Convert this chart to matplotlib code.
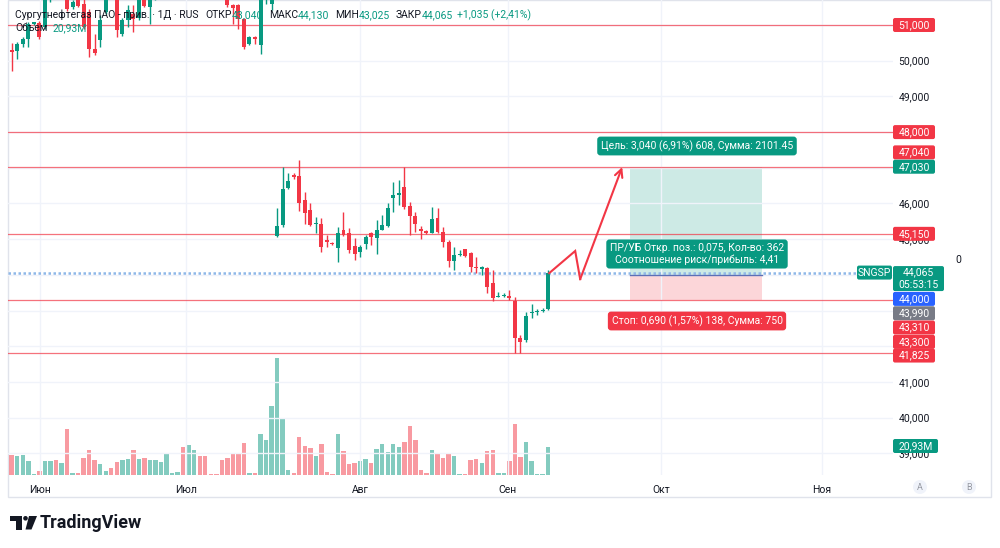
import matplotlib
matplotlib.use("Agg")
import matplotlib.pyplot as plt
import matplotlib.patches as patches
from matplotlib.transforms import Affine2D

plt.rcParams['font.family'] = ['Roboto', 'DejaVu Sans']

# ---- data (daily candles) ----
opens = [50.30, 50.28, 50.47, 50.62, 51.04, 51.05, 50.95, 51.90, 52.40, 52.00,
         52.30, 51.49, 51.75, 51.60, 51.37, 50.34, 50.58, 51.36, 51.90, 51.80,
         50.76, 51.14, 51.32, 51.20, 51.90, 51.51, 51.80, 52.10, 52.40, 52.80,
         52.85, 52.90, 52.50, 52.90, 53.10, 52.80, 52.60, 52.55, 52.50, 52.20,
         51.56, 51.56, 51.18, 50.48, 50.65, 50.44, 51.80, 51.60, 45.09, 45.40,
         46.44, 46.79, 46.77, 46.10, 45.82, 45.43, 45.43, 44.98, 44.90, 44.74,
         45.26, 45.17, 44.82, 44.65, 44.87, 45.17, 45.03, 45.26, 45.37, 46.15,
         46.24, 46.47, 45.93, 45.65, 45.28, 45.24, 45.18, 45.59, 45.21, 44.92,
         44.39, 44.56, 44.72, 44.61, 44.23, 44.17, 44.19, 43.76, 43.39, 43.40,
         43.41, 43.28, 42.22, 42.18, 42.92, 42.95, 42.99, 43.04]
highs = [50.50, 50.53, 50.65, 51.09, 51.08, 51.10, 52.00, 52.40, 52.60, 52.50,
         52.40, 51.70, 51.80, 51.75, 51.45, 50.76, 51.28, 51.90, 52.00, 51.90,
         51.20, 51.56, 51.56, 51.90, 52.00, 51.90, 52.20, 52.50, 52.90, 52.90,
         52.95, 53.00, 53.00, 53.20, 53.20, 52.90, 52.65, 52.60, 52.60, 52.30,
         51.60, 51.60, 51.20, 50.70, 50.70, 51.90, 52.20, 52.10, 45.86, 47.03,
         46.85, 46.86, 47.22, 46.33, 46.00, 45.63, 45.59, 45.12, 44.93, 45.35,
         45.77, 45.30, 45.02, 44.84, 45.12, 45.21, 45.54, 45.68, 46.00, 46.61,
         46.66, 47.03, 46.05, 45.77, 45.37, 45.26, 45.89, 45.87, 45.33, 44.98,
         44.79, 44.70, 44.72, 44.64, 44.49, 44.26, 44.23, 44.14, 43.53, 43.50,
         43.58, 43.39, 42.32, 42.97, 43.19, 43.04, 43.06, 44.13]
lows = [49.71, 50.06, 50.39, 50.39, 51.00, 50.60, 50.90, 51.65, 51.80, 51.90,
        51.40, 51.45, 51.50, 50.90, 50.09, 50.16, 50.39, 51.30, 51.75, 50.65,
        50.70, 50.95, 50.79, 51.15, 51.50, 51.04, 51.70, 52.00, 52.30, 52.75,
        52.80, 52.40, 52.40, 52.80, 52.70, 52.50, 52.50, 52.45, 52.10, 51.50,
        51.04, 50.90, 50.32, 50.45, 50.48, 50.20, 51.60, 51.42, 45.05, 45.33,
        46.40, 46.68, 45.79, 45.43, 45.38, 45.17, 44.65, 44.79, 44.84, 44.37,
        45.09, 44.60, 44.42, 44.51, 44.72, 44.84, 44.59, 45.26, 45.33, 45.77,
        45.96, 45.85, 45.12, 45.21, 45.00, 45.14, 45.17, 45.18, 44.77, 44.23,
        44.14, 44.53, 44.49, 44.09, 44.05, 43.99, 43.48, 43.28, 43.37, 43.37,
        43.30, 41.80, 41.80, 42.13, 42.78, 42.88, 42.96, 43.025]
closes = [50.25, 50.47, 50.62, 51.04, 51.05, 50.67, 51.90, 52.20, 52.00, 52.30,
          51.44, 51.65, 51.53, 50.95, 50.34, 50.22, 51.14, 51.75, 51.80, 50.86,
          51.14, 51.42, 51.18, 51.80, 51.53, 51.80, 52.10, 52.40, 52.80, 52.85,
          52.90, 52.50, 52.90, 53.10, 52.80, 52.60, 52.55, 52.50, 52.20, 51.56,
          51.47, 51.18, 50.39, 50.67, 50.60, 51.80, 52.00, 51.95, 45.37, 46.40,
          46.64, 46.73, 46.00, 45.74, 45.40, 45.46, 44.79, 44.93, 44.86, 45.18,
          45.12, 44.70, 44.59, 44.77, 45.05, 45.05, 45.26, 45.40, 45.87, 46.24,
          46.30, 45.89, 45.65, 45.43, 45.23, 45.17, 45.56, 45.21, 44.92, 44.39,
          44.55, 44.59, 44.53, 44.23, 44.18, 44.21, 43.67, 43.34, 43.42, 43.42,
          43.34, 42.22, 42.13, 42.85, 42.97, 42.99, 43.03, 44.065]
volumes = [15.2, 14.2, 15.2, 10.2, 1.0, 2.7, 10.2, 10.7, 11.5, 9.2,
           34.4, 1.7, 1.7, 13.0, 18.9, 11.2, 8.2, 3.2, 5.5, 10.0,
           11.2, 12.2, 18.4, 12.0, 13.0, 11.0, 11.0, 10.0, 15.7, 1.5,
           2.5, 20.9, 22.4, 18.4, 14.4, 13.9, 1.0, 1.0, 11.5, 13.0,
           15.4, 15.4, 23.7, 1.5, 1.5, 30.6, 26.1, 51.5, 87.7, 41.6,
           3.5, 1.7, 28.4, 21.4, 20.4, 14.4, 23.4, 2.2, 1.0, 30.4,
           17.9, 8.2, 9.2, 10.2, 12.2, 8.7, 19.2, 23.4, 16.9, 23.4,
           20.9, 24.9, 36.4, 25.9, 3.7, 1.7, 18.4, 16.2, 12.7, 16.2,
           14.2, 0.5, 0.5, 11.2, 12.2, 8.7, 17.9, 18.9, 1.2, 1.2,
           10.2, 37.9, 13.2, 24.4, 10.5, 0.7, 0.7, 20.93]

month_pos = [5.1, 31.5, 63.0, 89.7, 117.4, 146.5]
month_labels = ["Июн", "Июл", "Авг", "Сен", "Окт", "Ноя"]
price_ticks = [39, 40, 41, 42, 43, 44, 45, 46, 47, 48, 49, 50, 51]
# these tick labels sit fully under the coloured price labels
hidden_ticks = [42, 43, 44, 47, 48, 51]
level_lines = [51.0, 48.0, 47.03, 45.15, 43.31, 41.825]
last_price = 44.065

# position tool
pos_left, pos_right = 111.8, 135.7
entry, target, stop = 44.0, 47.03, 43.31
path_x = [97.2, 101.9, 102.8, 110.4]
path_y = [44.05, 44.67, 43.88, 47.02]

UP, DOWN = '#089981', '#F23645'
TXT = '#131722'
W, H = 1000, 548

fig = plt.figure(figsize=(W / 100, H / 100), dpi=100)
pix = Affine2D().scale(1 / W, -1 / H).translate(0, 1) + fig.transFigure

ax = fig.add_axes([8 / W, 1 - 475 / H, 885 / W, 475 / H])
ax2 = ax.twinx()
ax.set_zorder(2)
ax2.set_zorder(1)
ax.patch.set_visible(False)

ax.set_xlim(-0.67, 159.37)
ax.set_ylim(38.395, 51.70)
ax2.set_ylim(0, 355)

idx = list(range(len(opens)))
up = [c >= o for o, c in zip(opens, closes)]

# volume
vcol = [(0.031, 0.6, 0.506, 0.5) if u else (0.949, 0.212, 0.271, 0.5) for u in up]
ax2.bar(idx, volumes, width=0.8, color=vcol, linewidth=0)
ax2.set_yticks([])
for s in ax2.spines.values():
    s.set_visible(False)

# candles
ccol = [UP if u else DOWN for u in up]
ax.vlines(idx, lows, highs, colors=ccol, lw=1, zorder=3)
bottoms = [min(o, c) for o, c in zip(opens, closes)]
heights = [max(abs(c - o), 0.03) for o, c in zip(opens, closes)]
ax.bar(idx, heights, bottom=bottoms, width=0.72, color=ccol, linewidth=0, zorder=4)

# grid & axes
ax.set_yticks(price_ticks)
ax.set_yticklabels(["" if v in hidden_ticks else f"{v:.3f}".replace('.', ',') for v in price_ticks])
ax.yaxis.tick_right()
ax.set_xticks(month_pos)
ax.set_xticklabels(month_labels)
ax.tick_params(length=0, labelsize=7.5, labelcolor=TXT)
ax.tick_params(axis='y', pad=4)
ax.tick_params(axis='x', pad=7)
ax.grid(True, color='#f0f3fa', lw=1, zorder=0)
for s in ax.spines.values():
    s.set_visible(False)

for lv in level_lines:
    ax.axhline(lv, color=DOWN, lw=0.9, alpha=0.7, zorder=2)
ax.axhline(last_price, color='#8fb8e8', lw=1.8, ls=(0, (1, 1)), zorder=2)

# position tool
ax.add_patch(patches.Rectangle((pos_left, entry), pos_right - pos_left, target - entry,
                               fc=UP, alpha=0.2, lw=0, zorder=1))
ax.add_patch(patches.Rectangle((pos_left, stop), pos_right - pos_left, entry - stop,
                               fc=DOWN, alpha=0.2, lw=0, zorder=1))
ax.plot([pos_left, pos_right], [entry, entry], color='#5d6fb5', lw=1, zorder=2)

ax.plot(path_x[:-1], path_y[:-1], color=DOWN, lw=1.5, zorder=5, solid_joinstyle='miter')
ax.annotate('', xy=(path_x[-1], path_y[-1]), xytext=(path_x[-2], path_y[-2]),
            arrowprops=dict(arrowstyle='->', color=DOWN, lw=1.5, mutation_scale=14,
                            shrinkA=0, shrinkB=0), zorder=5)


def tool_label(x, y, text, color):
    fig.text(x, y, text, transform=pix, ha='center', va='center', fontsize=7.5,
             color='white', zorder=8, linespacing=1.15,
             bbox=dict(boxstyle='round,pad=0.35,rounding_size=0.3', fc=color, ec='none'))


tool_label(697, 146, "Цель: 3,040 (6,91%) 608, Сумма: 2101.45", UP)
tool_label(697, 254, "ПР/УБ Откр. поз.: 0,075, Кол-во: 362\nСоотношение риск/прибыль: 4,41", UP)
tool_label(697, 321, "Стоп: 0,690 (1,57%) 138, Сумма: 750", DOWN)


def py(p):
    return H - ax.transData.transform((0, p))[1]


def axis_label(text, y, color, x0=893, w=42, h=14):
    box = patches.FancyBboxPatch((x0, y - h / 2), w, h, boxstyle='round,pad=0,rounding_size=2',
                                 fc=color, ec='none', transform=pix, zorder=6)
    fig.add_artist(box)
    fig.text(x0 + w / 2, y, text, transform=pix, ha='center', va='center', color='white',
             fontsize=7.5, zorder=7, linespacing=1.3)


axis_label("51,000", py(51.0), DOWN)
axis_label("48,000", py(48.0), DOWN)
axis_label("47,040", py(47.04) - 14, DOWN)
axis_label("47,030", py(47.03), UP)
axis_label("45,150", py(45.15), DOWN)
axis_label("44,065\n05:53:15", py(last_price) + 6, UP, w=51, h=25)
axis_label("SNGSP", py(last_price), UP, x0=857, w=35, h=14)
axis_label("44,000", py(44.0) + 24, '#2962FF')
axis_label("43,990", py(43.99) + 38, '#787b86')
axis_label("43,310", py(43.31) + 28, DOWN)
axis_label("43,300", py(43.30) + 42, DOWN)
axis_label("41,825", py(41.825) + 3, DOWN)
axis_label("20,93M", 446, UP, w=45, h=14)

fig.text(958, 260, "0", transform=pix, ha='center', va='center', fontsize=7.5, color=TXT)

# header
first = fig.text(15, 15, "Сургутнефтегаз ПАО - прив. · 1Д · RUS", transform=pix,
                 ha='left', va='center', fontsize=7.5, color=TXT, zorder=10)
prev = first
for txt, col, gap in [("ОТКР", TXT, 5), ("43,040", UP, 0), ("МАКС", TXT, 4), ("44,130", UP, 0),
                      ("МИН", TXT, 4), ("43,025", UP, 0), ("ЗАКР", TXT, 4), ("44,065", UP, 0),
                      ("+1,035 (+2,41%)", UP, 3)]:
    prev = ax.annotate(txt, xy=(1, 0.5), xycoords=prev, xytext=(gap, 0), textcoords='offset points',
                       ha='left', va='center', fontsize=7.5, color=col, zorder=10,
                       annotation_clip=False)
vol_lbl = fig.text(15, 28, "Объем", transform=pix, ha='left', va='center', fontsize=7.5,
                   color=TXT, zorder=10)
ax.annotate("20,93M", xy=(1, 0.5), xycoords=vol_lbl, xytext=(4, 0), textcoords='offset points',
            ha='left', va='center', fontsize=7.5, color=UP, zorder=10, annotation_clip=False)

# A / B buttons
for x, t in [(920, "A"), (969, "B")]:
    fig.add_artist(patches.Circle((x, 487), 7, transform=pix, fc='#f0f3fa', ec='none', zorder=3))
    fig.text(x, 487, t, transform=pix, ha='center', va='center', fontsize=6.5, color='#9598a1', zorder=4)

# frame
fig.add_artist(patches.Rectangle((8, 0), 983, 497, transform=pix, fill=False, ec='#e0e3eb', lw=1, zorder=1))

# logo
for r in [(10, 516, 12, 4.5), (16, 516, 5.5, 13.5)]:
    fig.add_artist(patches.Rectangle((r[0], r[1]), r[2], r[3], transform=pix, fc=TXT, ec='none'))
fig.add_artist(patches.Circle((25.5, 518.3), 2.3, transform=pix, fc=TXT, ec='none'))
fig.add_artist(patches.Polygon([(29, 516), (37, 516), (31.5, 529.5), (25.5, 529.5)], closed=True,
                               transform=pix, fc=TXT, ec='none'))
fig.text(40, 522.5, "TradingView", transform=pix, ha='left', va='center', fontsize=13,
         fontweight='bold', color=TXT)

fig.savefig("out.png", dpi=100, facecolor='white')
